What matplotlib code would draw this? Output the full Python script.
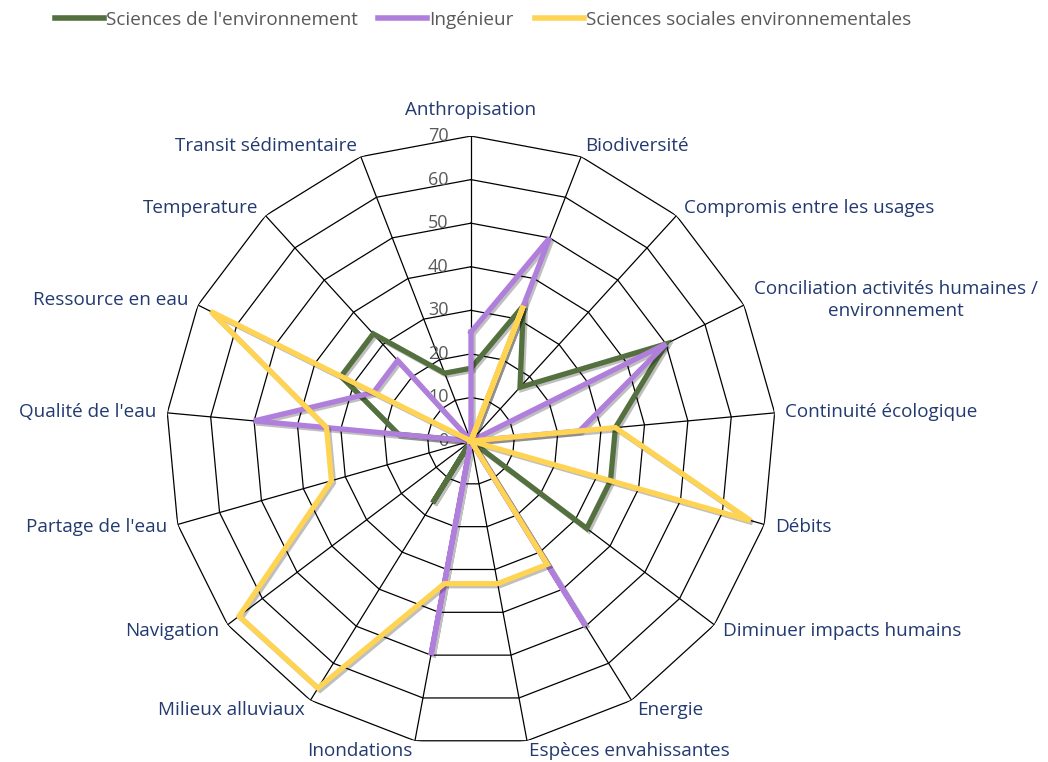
import numpy as np
import matplotlib
matplotlib.use("Agg")
import matplotlib.pyplot as plt
import matplotlib.patheffects as pe

categories = ["Anthropisation", "Biodiversité", "Compromis entre les usages",
              "Conciliation activités humaines /\nenvironnement", "Continuité écologique",
              "Débits", "Diminuer impacts humains", "Energie", "Espèces envahissantes",
              "Inondations", "Milieux alluviaux", "Navigation", "Partage de l'eau",
              "Qualité de l'eau", "Ressource en eau", "Temperature", "Transit sédimentaire"]

env = [16.7, 33.3, 16.7, 50, 33.3, 33.3, 33.3, 0, 0, 0, 16.7, 0, 0, 16.7, 33.3, 33.3, 16.7]
ing = [25, 50, 0, 50, 25, 0, 0, 50, 0, 50, 0, 0, 0, 50, 25, 25, 0]
soc = [0, 33.3, 0, 0, 33.3, 66.7, 0, 33.3, 33.3, 33.3, 66.7, 66.7, 33.3, 33.3, 66.7, 0, 0]

series_names = ["Sciences de l'environnement", "Ingénieur", "Sciences sociales environnementales"]
colors = ["#54703f", "#b07fdc", "#ffd453"]
rings = [10, 20, 30, 40, 50, 60, 70]

plt.rcParams['font.family'] = ['Open Sans', 'DejaVu Sans']

n = len(categories)
angles = np.arange(n) * 2 * np.pi / n
closed = np.append(angles, angles[0])

fig = plt.figure(figsize=(10.48, 7.62), dpi=100)
ax = fig.add_axes([0.1584, 0.021, 0.582, 0.8005], projection="polar")
ax.set_theta_zero_location("N")
ax.set_theta_direction(-1)
ax.set_ylim(0, 70)
ax.grid(False)
ax.spines["polar"].set_visible(False)
ax.set_xticks([])
ax.set_yticks([])
ax.patch.set_alpha(0)

# polygon grid
for r in rings:
    ax.plot(closed, [r] * (n + 1), color="black", lw=0.9, zorder=1)
for a in angles:
    ax.plot([a, a], [0, 70], color="black", lw=0.9, zorder=1)

# radial tick labels
for r in [0] + rings:
    ax.annotate(str(r), xy=(0, r), xytext=(-16, 0), textcoords="offset points",
                ha="right", va="center", fontsize=13, color="#595959", zorder=2)

shadow = [pe.SimpleLineShadow(offset=(1.5, -1.5), shadow_color="black", alpha=0.25),
          pe.Normal()]
for vals, c, name in zip([env, ing, soc], colors, series_names):
    ax.plot(closed, vals + vals[:1], color=c, lw=3.8, label=name,
            path_effects=shadow, zorder=3, solid_joinstyle="miter")

# category labels
for a, lab in zip(angles, categories):
    s = np.sin(a)
    c = np.cos(a)
    if abs(s) < 0.1:
        ha = "center"
    elif s > 0:
        ha = "left"
    else:
        ha = "right"
    va = "center"
    rr = 72.5
    if c > 0.95:
        va = "bottom"
        rr = 74
    ax.text(a, rr, lab, ha=ha, va=va, fontsize=13.6, color="#223a70",
            multialignment="center", linespacing=1.25)

leg = fig.legend(loc="upper left", bbox_to_anchor=(0.036, 1.008), ncol=3,
                 frameon=False, fontsize=13.6, handlelength=2.6, handletextpad=0.1,
                 columnspacing=1.1, labelcolor="#595959")
for h in leg.get_lines():
    h.set_linewidth(4)
    h.set_path_effects([])

fig.savefig("out.png", dpi=100)
